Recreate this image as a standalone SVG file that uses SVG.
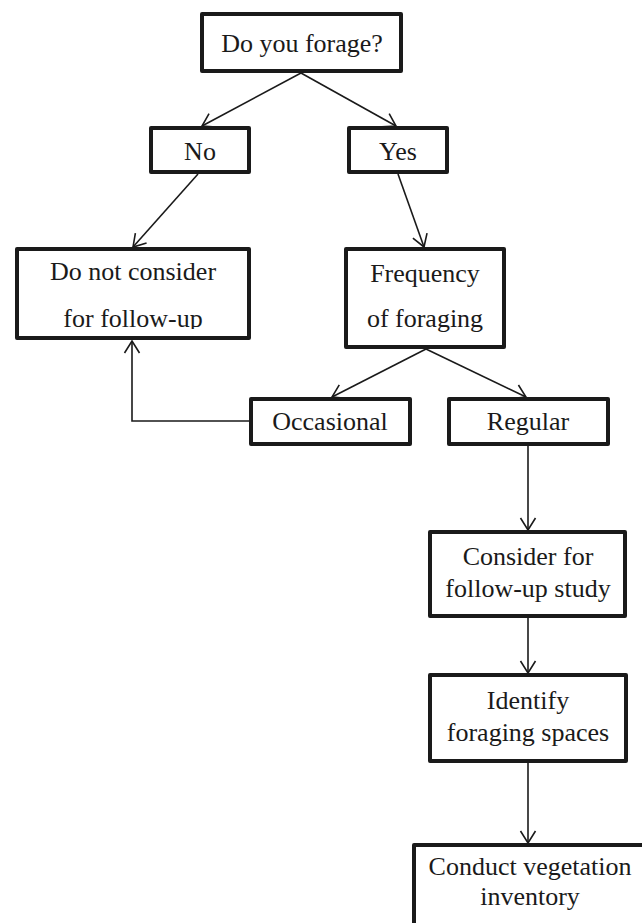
<svg xmlns="http://www.w3.org/2000/svg" width="642" height="923" viewBox="0 0 642 923">
<style>
.box{fill:#fff;stroke:#1a1a1a;stroke-width:4;stroke-linejoin:round}
.t{font-family:"Liberation Serif","Times New Roman",serif;font-size:26px;fill:#1a1a1a;text-anchor:middle}
.c{fill:none;stroke:#1a1a1a;stroke-width:1.6}
</style>
<defs>
<marker id="arr" markerUnits="userSpaceOnUse" viewBox="0 0 14 18" refX="13" refY="9" markerWidth="14" markerHeight="18" orient="auto">
<path d="M1,1.5 L13,9 L1,16.5" fill="none" stroke="#1a1a1a" stroke-width="1.6"/>
</marker>
<clipPath id="clipDN"><rect x="0" y="240" width="260" height="89"/></clipPath>
</defs>
<rect width="642" height="923" fill="#fff"/>
<g id="connectors">
<line class="c" x1="301" y1="73" x2="202" y2="126" marker-end="url(#arr)"/>
<line class="c" x1="301" y1="73" x2="396" y2="126" marker-end="url(#arr)"/>
<line class="c" x1="198" y1="174" x2="133" y2="247" marker-end="url(#arr)"/>
<line class="c" x1="398" y1="174" x2="424" y2="247" marker-end="url(#arr)"/>
<line class="c" x1="426" y1="349" x2="332" y2="397" marker-end="url(#arr)"/>
<line class="c" x1="426" y1="349" x2="526" y2="397" marker-end="url(#arr)"/>
<polyline class="c" points="249,421 132,421 132,341" marker-end="url(#arr)"/>
<line class="c" x1="528" y1="446" x2="528" y2="530" marker-end="url(#arr)"/>
<line class="c" x1="528" y1="618" x2="528" y2="673" marker-end="url(#arr)"/>
<line class="c" x1="528" y1="763" x2="528" y2="843" marker-end="url(#arr)"/>
</g>
<g id="n-forage"><rect class="box" x="202" y="14" width="199" height="57"/><text class="t" x="302" y="52">Do you forage?</text></g>
<g id="n-no"><rect class="box" x="151" y="128" width="98" height="44"/><text class="t" x="200" y="160">No</text></g>
<g id="n-yes"><rect class="box" x="349" y="128" width="98" height="44"/><text class="t" x="398" y="160">Yes</text></g>
<g id="n-donot"><rect class="box" x="17" y="249" width="232" height="89"/><text class="t" x="133" y="280">Do not consider</text><text class="t" x="133" y="327" clip-path="url(#clipDN)">for follow-up</text></g>
<g id="n-freq"><rect class="box" x="346" y="249" width="158" height="98"/><text class="t" x="425" y="282">Frequency</text><text class="t" x="425" y="327">of foraging</text></g>
<g id="n-occ"><rect class="box" x="251" y="399" width="159" height="45"/><text class="t" x="330" y="430">Occasional</text></g>
<g id="n-reg"><rect class="box" x="449" y="399" width="159" height="45"/><text class="t" x="528" y="430">Regular</text></g>
<g id="n-consider"><rect class="box" x="430" y="532" width="195" height="84"/><text class="t" x="528" y="565">Consider for</text><text class="t" x="528" y="597">follow-up study</text></g>
<g id="n-identify"><rect class="box" x="430" y="675" width="196" height="86"/><text class="t" x="528" y="709">Identify</text><text class="t" x="528" y="741">foraging spaces</text></g>
<g id="n-conduct"><rect class="box" x="414" y="845" width="260" height="100"/><text class="t" x="530" y="875">Conduct vegetation</text><text class="t" x="530" y="905">inventory</text></g>
</svg>
